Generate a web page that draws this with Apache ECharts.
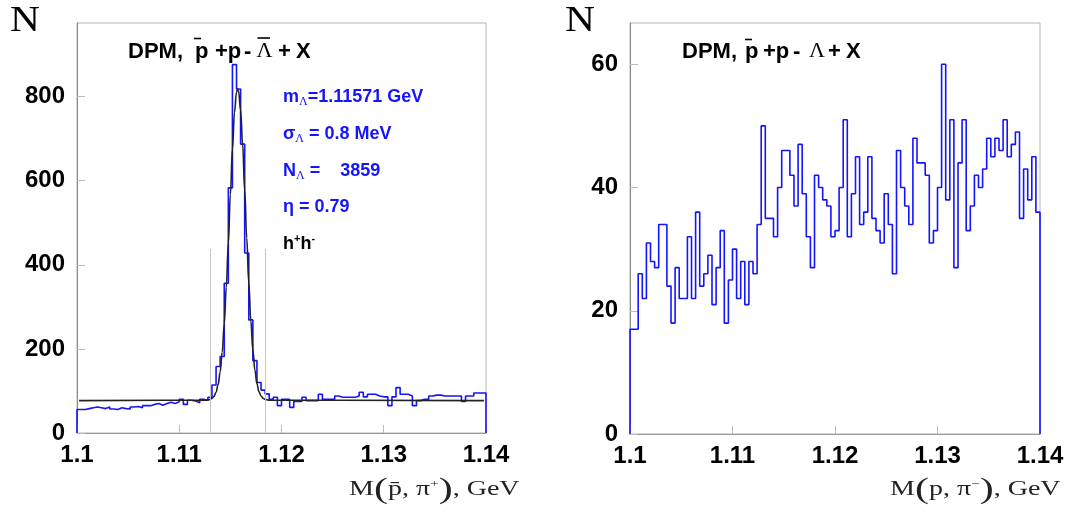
<!DOCTYPE html>
<html><head><meta charset="utf-8">
<script src="https://cdn.jsdelivr.net/npm/echarts@6/dist/echarts.min.js"></script>
<style>html,body{margin:0;padding:0;background:#fff}#c{width:1071px;height:512px}</style>
</head><body><div id="c"></div>
<script>
// ---- data ----
const binStart = 1.1;
const binWidth = 0.0004;
const xTicks = [1.1, 1.11, 1.12, 1.13, 1.14];
const countsLeft = [
 56,56,58,60,62,60,58,62,57,56,
 60,58,57,62,63,60,65,65,68,70,
 66,70,73,70,74,80,68,78,76,72,
 80,78,85,114,158,182,356,583,876,818,
 687,428,269,172,120,102,93,80,85,65,
 80,80,61,75,75,85,77,77,77,92,
 80,80,80,88,85,85,85,85,88,97,
 86,92,92,88,86,86,65,86,108,92,
 92,88,65,77,80,80,88,90,90,88,
 88,88,88,88,75,88,88,95,95,95];
const countsRight = [
 17,17,26,22,31,28,27,34,34,24,
 18,27,22,22,32,22,36,24,26,29,
 21,27,33,18,25,30,22,28,21,28,
 26,34,50,35,35,32,40,46,46,42,
 37,47,39,32,27,42,40,38,37,32,
 33,40,51,32,39,45,34,36,45,35,
 33,31,39,34,26,46,40,37,34,48,
 44,44,42,31,33,40,60,38,51,27,
 44,51,33,37,42,40,43,48,45,48,
 46,51,45,47,49,35,43,38,45,36];
// fit curve (x, N)
const fitX = [1.1002,1.1126,1.1128,1.1130,1.1132,1.1134,1.1136,1.1138,1.1140,1.1142,1.1144,1.1146,1.1148,1.1150,1.1152,1.1154,1.1156,1.11571,1.1158,1.1160,1.1162,1.1164,1.1166,1.1168,1.1170,1.1172,1.1174,1.1176,1.1178,1.1180,1.1182,1.1184,1.1186,1.1188,1.1398];
const fitY = [77,78,78.5,80,82,87,97,115,145,192,259,347,452,567,675,762,811,818,813,768,686,578,464,357,267,197,149,117,98,88,82.5,80,78.8,78,77];
const windowEdges = [1.11308, 1.11839];
const windowTop = 438;
const leftYMax = 975, rightYMax = 66.7;

function histLine(counts){
  const pts = [[binStart, 0]];
  counts.forEach((v,i)=>pts.push([binStart + i*binWidth, v]));
  const xe = binStart + counts.length*binWidth;
  pts.push([xe, counts[counts.length-1]]);
  pts.push([xe, 0]);
  return pts;
}

const chart = echarts.init(document.getElementById('c'), null, {renderer:'canvas'});
const labelFont = {fontFamily:'Liberation Sans', fontWeight:'bold', fontSize:24, color:'#000'};
function xAxis(gi){
  return {gridIndex:gi, type:'value', min:1.1, max:1.14, interval:0.01,
    axisLine:{show:true, lineStyle:{color:'#999', width:1}},
    axisTick:{show:true, inside:true, length:8, lineStyle:{color:'#bbb'}},
    splitLine:{show:false},
    axisLabel:Object.assign({margin:10, formatter:v=>String(+v.toFixed(2))}, labelFont)};
}
function yAxis(gi, max){
  return {gridIndex:gi, type:'value', min:0, max:max, interval: gi===0?200:20,
    axisLine:{show:true, lineStyle:{color:'#888', width:1}},
    axisTick:{show:true, inside:true, length:8, lineStyle:{color:'#bbb'}},
    splitLine:{show:false},
    axisLabel:Object.assign({margin:12, showMaxLabel:false}, labelFont)};
}
const fitData = fitX.map((x,i)=>[x, fitY[i]]);

const serif = 'Liberation Serif';
const sans = 'Liberation Sans';
const blue = '#1414ff';
function blueLine(y, text){
  return {type:'text', left:283, top:y, style:{text:text, rich:{
    b:{fontFamily:sans, fontWeight:'bold', fontSize:18, fill:blue, lineHeight:22},
    s:{fontFamily:serif, fontSize:12, fill:blue, lineHeight:22, verticalAlign:'bottom', padding:[6,0,0,0]}
  }}};
}
function piece(x, text, isSerif){
  return {type:'text', left:x, top:isSerif?40:41, style:{text:text,
    fontFamily:isSerif?serif:sans, fontWeight:isSerif?'normal':'bold', fontSize:22, fill:'#000'}};
}
function bar(x1, x2, y){
  return {type:'line', shape:{x1:x1, y1:y, x2:x2, y2:y}, style:{stroke:'#000', lineWidth:1.6}};
}
function axisName(x, body){
  return {type:'text', x:x, y:474, scaleX:1.4, style:{text:body, rich:{
      n:{fontFamily:serif, fontSize:20, fill:'#222', lineHeight:32},
      q:{fontFamily:serif, fontSize:30, fill:'#222', lineHeight:32},
      u:{fontFamily:serif, fontSize:11, fill:'#222', lineHeight:32, verticalAlign:'top', padding:[5,0,0,0]}}}};
}
chart.setOption({
  animation:false,
  grid:[
    {left:77, top:23, width:409, height:410, show:true, borderColor:'#b5b5b5', borderWidth:1},
    {left:630, top:23, width:410, height:411, show:true, borderColor:'#b5b5b5', borderWidth:1}
  ],
  xAxis:[xAxis(0), xAxis(1)],
  yAxis:[yAxis(0, leftYMax), yAxis(1, rightYMax)],
  series:[
    {type:'line', xAxisIndex:0, yAxisIndex:0, data:histLine(countsLeft), step:'end', symbol:'none',
     lineStyle:{color:blue, width:1.6}, z:3,
     markLine:{silent:true, symbol:'none', label:{show:false}, lineStyle:{color:'#c4c4c4', width:1, type:'solid'},
       data: windowEdges.map(x=>[{coord:[x,0]},{coord:[x,windowTop]}])}},
    {type:'line', xAxisIndex:0, yAxisIndex:0, data:fitData, smooth:0.4, smoothMonotone:'x', symbol:'none',
     lineStyle:{color:'#222', width:1.6}, z:4},
    {type:'line', xAxisIndex:1, yAxisIndex:1, data:histLine(countsRight), step:'end', symbol:'none',
     lineStyle:{color:blue, width:1.6}, z:3}
  ],
  graphic:[
    {type:'text', x:10, y:4, scaleX:1.15, style:{text:'N', fontFamily:serif, fontSize:36, fill:'#000'}},
    {type:'text', x:565, y:4, scaleX:1.15, style:{text:'N', fontFamily:serif, fontSize:36, fill:'#000'}},
    // left title
    piece(128,'DPM,'), piece(195,'p'), piece(215,'+p'), piece(244,'-'), piece(256.5,'\u039B',true), piece(278,'+'), piece(296,'X'),
    bar(194,201,38.5), bar(257.5,270,38),
    // right title
    piece(682,'DPM,'), piece(745,'p'), piece(763,'+p'), piece(793,'-'), piece(809,'\u039B',true), piece(828,'+'), piece(846,'X'),
    bar(745,752,39.5),
    blueLine(88, '{b|m}{s|\u039B}{b|=1.11571 GeV}'),
    blueLine(125, '{b|\u03C3}{s|\u039B}{b| = 0.8 MeV}'),
    blueLine(162, '{b|N}{s|\u039B}{b| =    3859}'),
    blueLine(198, '{b|\u03B7 = 0.79}'),
    {type:'text', left:283, top:233, style:{text:'{b|h}{p|+}{b|h}{p|-}', rich:{
      b:{fontFamily:sans, fontWeight:'bold', fontSize:18, fill:'#000', lineHeight:22},
      p:{fontFamily:sans, fontWeight:'bold', fontSize:11, fill:'#000', lineHeight:22, verticalAlign:'top'}}}},
    axisName(349, '{n|M}{q|(}{n|p\u0304, \u03C0}{u|+}{q|)}{n|, GeV}'),
    axisName(890, '{n|M}{q|(}{n|p, \u03C0}{u|\u2212}{q|)}{n|, GeV}')
  ]
});
</script></body></html>
